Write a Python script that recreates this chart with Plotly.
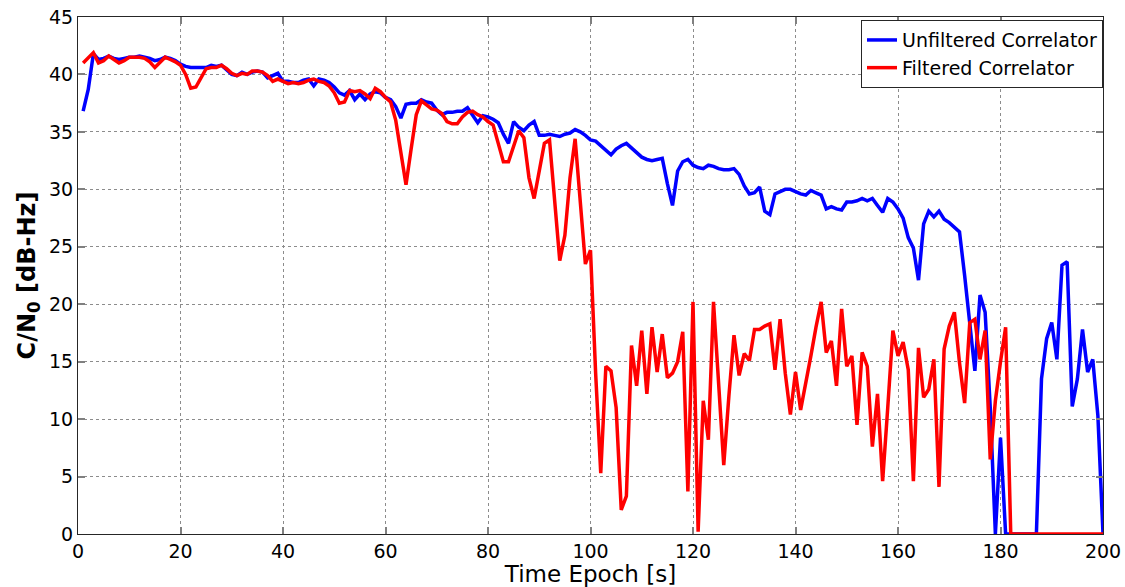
import plotly.graph_objects as go

t = list(range(1, 201))

unfiltered = [
    36.8, 38.7, 41.8, 41.3, 41.4, 41.6, 41.4, 41.3, 41.4, 41.5,
    41.5, 41.6, 41.5, 41.4, 41.2, 41.3, 41.5, 41.4, 41.2, 40.9,
    40.7, 40.6, 40.6, 40.6, 40.6, 40.8, 40.7, 40.8, 40.4, 40.0,
    39.9, 40.2, 40.0, 40.2, 40.3, 40.2, 39.7, 39.9, 40.1, 39.4,
    39.4, 39.3, 39.3, 39.5, 39.6, 39.0, 39.6, 39.5, 39.3, 38.9,
    38.4, 38.2, 38.6, 37.8, 38.3, 37.8, 38.3, 38.5, 38.4, 38.0,
    37.8, 37.2, 36.2, 37.4, 37.5, 37.5, 37.8, 37.6, 37.5, 36.9,
    36.5, 36.7, 36.7, 36.8, 36.8, 37.1, 36.5, 35.8, 36.4, 36.3,
    36.1, 35.8, 34.8, 34.0, 35.9, 35.4, 35.1, 35.6, 35.9, 34.7,
    34.7, 34.8, 34.7, 34.6, 34.8, 34.9, 35.2, 35.0, 34.7, 34.3,
    34.2, 33.8, 33.3, 33.0, 33.5, 33.8, 34.0, 33.6, 33.3, 32.8,
    32.6, 32.5, 32.6, 32.7, 30.5, 28.6, 31.6, 32.4, 32.6, 32.1,
    31.9, 31.8, 32.1, 32.0, 31.8, 31.7, 31.7, 31.8, 31.3, 30.3,
    29.6, 29.7, 30.2, 28.1, 27.8, 29.6, 29.8, 30.0, 30.0, 29.8,
    29.6, 29.5, 29.9, 29.7, 29.5, 28.3, 28.5, 28.3, 28.2, 28.9,
    28.9, 29.0, 29.2, 29.0, 29.2, 28.6, 28.0, 29.2, 28.9, 28.3,
    27.5, 25.8, 24.9, 22.1, 27.0, 28.1, 27.6, 28.1, 27.4, 27.1,
    26.7, 26.3, 22.5, 18.0, 14.2, 20.8, 19.3, 11.0, 0.0, 8.4,
    0.0, 0.0, 0.0, 0.0, 0.0, 0.0, 0.0, 13.5, 17.0, 18.4,
    15.2, 23.4, 23.7, 11.1, 13.5, 17.8, 14.1, 15.2, 10.3, 0.0,
]

filtered = [
    41.0, 41.5, 41.9, 41.0, 41.2, 41.6, 41.3, 41.0, 41.2, 41.5,
    41.5, 41.5, 41.4, 41.1, 40.6, 41.0, 41.5, 41.3, 41.1, 40.8,
    40.0, 38.8, 38.9, 39.7, 40.5, 40.6, 40.6, 40.8, 40.5, 40.1,
    39.9, 40.1, 40.0, 40.3, 40.3, 40.2, 39.9, 39.4, 39.6, 39.4,
    39.2, 39.3, 39.2, 39.3, 39.5, 39.6, 39.4, 39.3, 39.0, 38.4,
    37.5, 37.6, 38.6, 38.5, 38.6, 38.3, 37.9, 38.8, 38.5, 38.0,
    37.6, 36.0, 33.0, 30.4, 33.5, 36.5, 37.7, 37.3, 37.0, 36.9,
    36.6, 35.9, 35.7, 35.7, 36.3, 36.7, 36.8, 36.5, 36.3, 35.9,
    35.6, 34.0, 32.4, 32.4, 33.8, 35.1, 34.5, 31.0, 29.2, 31.5,
    34.0, 34.3, 29.0, 23.8, 26.0, 31.0, 34.4, 29.0, 23.5, 24.7,
    14.0, 5.3, 14.6, 14.2, 11.0, 2.1, 3.3, 16.4, 12.9, 17.7,
    12.2, 18.0, 14.1, 17.4, 13.6, 14.0, 15.0, 17.6, 3.7, 20.2,
    0.2, 11.6, 8.2, 20.2, 13.0, 6.0, 12.0, 17.3, 13.8, 15.7,
    15.1, 17.8, 17.8, 18.1, 18.3, 14.3, 18.7, 14.0, 10.4, 14.1,
    10.8, 13.0, 15.5, 18.0, 20.2, 15.8, 16.8, 12.9, 19.6, 14.6,
    15.5, 9.5, 15.8, 14.6, 7.6, 12.2, 4.6, 11.0, 17.7, 15.5,
    16.7, 14.3, 4.6, 16.2, 11.9, 12.6, 15.2, 4.1, 16.1, 18.1,
    19.3, 14.9, 11.4, 18.4, 18.7, 15.2, 17.7, 6.5, 11.6, 15.0,
    18.0, 0.0, 0.0, 0.0, 0.0, 0.0, 0.0, 0.0, 0.0, 0.0,
    0.0, 0.0, 0.0, 0.0, 0.0, 0.0, 0.0, 0.0, 0.0, 0.0,
]

x_ticks = [0, 20, 40, 60, 80, 100, 120, 140, 160, 180, 200]
y_ticks = [0, 5, 10, 15, 20, 25, 30, 35, 40, 45]

FONT = "DejaVu Sans, Liberation Sans, Arial, sans-serif"

fig = go.Figure()
fig.add_trace(go.Scatter(x=t, y=unfiltered, mode="lines", name="Unfiltered Correlator",
                         line=dict(color="#0000FF", width=3.5)))
fig.add_trace(go.Scatter(x=t, y=filtered, mode="lines", name="Filtered Correlator",
                         line=dict(color="#FF0000", width=3.5)))

axis_common = dict(
    showline=True, linecolor="#262626", linewidth=1.2, mirror="ticks",
    ticks="inside", ticklen=7, tickcolor="#808080", tickwidth=1.5,
    showgrid=True, gridcolor="#8c8c8c", griddash="dot", gridwidth=1,
    zeroline=False, tickfont=dict(family=FONT, size=19, color="black"),
)

fig.update_layout(
    width=1125, height=587,
    margin=dict(l=78, r=22, t=17, b=53),
    paper_bgcolor="white", plot_bgcolor="white",
    font=dict(family=FONT, color="black"),
    xaxis=dict(range=[0, 200], tickvals=x_ticks, automargin=False,
               title=dict(text="Time Epoch [s]", font=dict(size=23), standoff=2),
               **axis_common),
    yaxis=dict(range=[0, 45], tickvals=y_ticks, automargin=False,
               title=dict(text="<b>C/N<sub>0</sub> [dB-Hz]</b>", font=dict(size=24), standoff=6),
               **axis_common),
    legend=dict(x=1, y=0.994, xanchor="right", yanchor="top",
                bgcolor="white", bordercolor="#262626", borderwidth=1,
                font=dict(family=FONT, size=19), itemwidth=30,
                tracegroupgap=0),
    showlegend=True,
)

fig.write_html("out.html")
